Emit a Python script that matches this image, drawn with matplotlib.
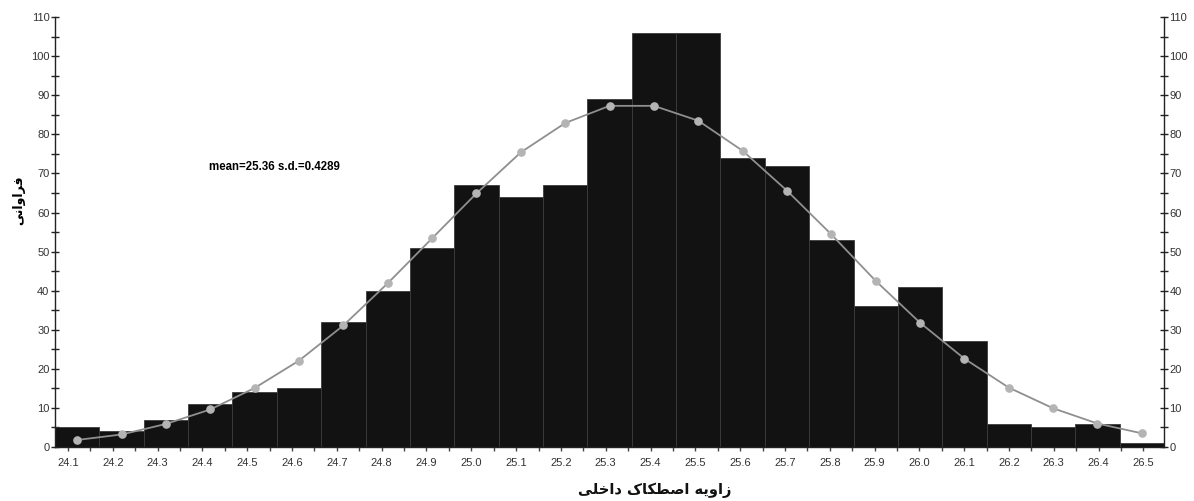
import numpy as np
import matplotlib
matplotlib.use('Agg')
import matplotlib.pyplot as plt
from matplotlib.ticker import MultipleLocator

# histogram bins (start of first bin and bin width)
bin_start = 24.071
bin_width = 0.099

# observed frequencies per bin
counts = [5, 4, 7, 11, 14, 15, 32, 40, 51, 67, 64, 67, 89,
          106, 106, 74, 72, 53, 36, 41, 27, 6, 5, 6, 1]

# expected frequencies of the fitted normal curve at each bin centre
expected = [1.8, 3.2, 5.9, 9.6, 15.1, 22.1, 31.1, 41.9, 53.4, 64.9, 75.4, 82.9, 87.3,
            87.3, 83.5, 75.8, 65.6, 54.4, 42.5, 31.8, 22.6, 15.2, 9.9, 6.0, 3.5]

x_ticks = [24.1, 24.2, 24.3, 24.4, 24.5, 24.6, 24.7, 24.8, 24.9, 25.0, 25.1, 25.2, 25.3,
           25.4, 25.5, 25.6, 25.7, 25.8, 25.9, 26.0, 26.1, 26.2, 26.3, 26.4, 26.5]

stats_text = 'mean=25.36 s.d.=0.4289'

# Persian labels, already in joined (presentation) forms and visual order,
# because matplotlib does no Arabic shaping on its own
x_title = ''.join(chr(c) for c in [0xFBFD, 0xFEE0, 0xFEA7, 0xFE8D, 0xFEA9, 0x20,
                                   0xFB8E, 0xFE8E, 0xFB91, 0xFEC4, 0xFEBB, 0xFE8D, 0x20,
                                   0xFEEA, 0xFBFE, 0xFEED, 0xFE8D, 0xFEAF])
y_title = ''.join(chr(c) for c in [0xFBFD, 0xFEE7, 0xFE8D, 0xFEED, 0xFE8D, 0xFEAE, 0xFED3])

plt.rcParams['font.family'] = ['Liberation Sans', 'DejaVu Sans']

n_bins = len(counts)
edges = bin_start + bin_width * np.arange(n_bins + 1)
centers = (edges[:-1] + edges[1:]) / 2

fig = plt.figure(figsize=(11.94, 5.01), dpi=100)
ax = fig.add_axes([0.0461, 0.1078, 0.9288, 0.858])

ax.bar(centers, counts, width=bin_width, color='#121212', edgecolor='#3c3c3c',
       linewidth=0.6, zorder=2)
ax.plot(centers, expected, color='#8f8f8f', lw=1.3, marker='o', ms=5.2,
        mfc='#b4b4b4', mec='#b4b4b4', zorder=3)

ax.set_xlim(edges[0], edges[-1])
ax.set_ylim(0, 110)

ax.set_xticks(x_ticks)
ax.set_xticklabels(['%.1f' % v for v in x_ticks])
ax.xaxis.set_minor_locator(MultipleLocator(0.05))
ax.yaxis.set_major_locator(MultipleLocator(10))
ax.yaxis.set_minor_locator(MultipleLocator(5))

ax.spines['top'].set_visible(False)
for side in ['left', 'right', 'bottom']:
    ax.spines[side].set_linewidth(1.0)
    ax.spines[side].set_color('#222222')

ax.tick_params(axis='y', which='both', direction='inout', length=6, width=1,
               color='#222222', left=True, right=True, labelleft=True, labelright=True,
               labelsize=8, labelcolor='#333333', pad=1)
ax.tick_params(axis='x', which='both', direction='out', length=3, width=1,
               color='#444444', labelsize=8, labelcolor='#333333', pad=5)

ax.text(0.139, 0.651, stats_text, transform=ax.transAxes, fontsize=8.3,
        fontweight='bold', va='center', ha='left')

ax.text(25.41, -0.1, x_title, transform=ax.get_xaxis_transform(), ha='center',
        va='center', fontsize=10.5, fontweight='bold', family='DejaVu Sans',
        color='#111111')
fig.text(0.016, 0.60, y_title, rotation=90, ha='center', va='center',
         fontsize=9, fontweight='bold', family='DejaVu Sans')

fig.savefig('out.png', dpi=100)
